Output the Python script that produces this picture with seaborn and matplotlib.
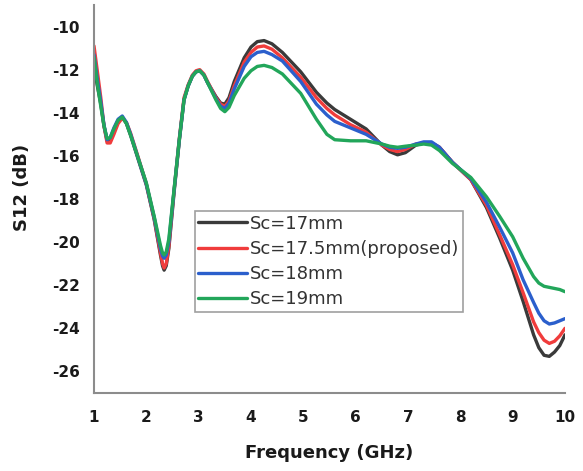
import pandas as pd
import seaborn as sns
import matplotlib.pyplot as plt

# frequency points (GHz)
freq = [1.0, 1.06, 1.13, 1.19, 1.25, 1.31, 1.38, 1.46, 1.54, 1.62,
        1.70, 1.83, 2.0, 2.15, 2.27, 2.31, 2.34, 2.38, 2.43, 2.53,
        2.63, 2.72, 2.8, 2.88, 2.95, 3.02, 3.1, 3.17, 3.33, 3.42,
        3.5, 3.58, 3.68, 3.87, 4.0, 4.12, 4.25, 4.4, 4.6, 4.95,
        5.25, 5.45, 5.6, 5.9, 6.2, 6.5, 6.65, 6.8, 6.95, 7.15,
        7.3, 7.45, 7.6, 7.85, 8.2, 8.5, 8.75, 9.0, 9.2, 9.4,
        9.5, 9.6, 9.7, 9.8, 9.9, 10.0]

# S12 (dB) for each Sc
s12_17 = [-11.8, -12.7, -13.6, -14.6, -15.3, -15.2, -14.8, -14.4, -14.2, -14.5,
          -15.05, -16.05, -17.35, -18.95, -20.6, -21.1, -21.3, -21.1, -20.3, -17.7,
          -15.3, -13.4, -12.75, -12.3, -12.1, -12.05, -12.25, -12.6, -13.25, -13.55,
          -13.6, -13.3, -12.55, -11.45, -10.95, -10.7, -10.65, -10.8, -11.2, -12.1,
          -13.05, -13.55, -13.85, -14.3, -14.75, -15.5, -15.8, -15.95, -15.85, -15.5,
          -15.4, -15.4, -15.6, -16.3, -17.1, -18.4, -19.8, -21.3, -22.75, -24.3,
          -24.9, -25.25, -25.3, -25.1, -24.8, -24.3]
s12_175 = [-10.9, -12.0, -13.3, -14.6, -15.4, -15.4, -15.0, -14.5, -14.25, -14.45,
           -14.95, -15.95, -17.3, -18.9, -20.5, -21.0, -21.2, -21.0, -20.2, -17.6,
           -15.2, -13.3, -12.7, -12.25, -12.05, -12.0, -12.2, -12.55, -13.3, -13.6,
           -13.7, -13.45, -12.75, -11.65, -11.2, -10.95, -10.9, -11.05, -11.45, -12.35,
           -13.3, -13.8, -14.1, -14.55, -14.9, -15.5, -15.7, -15.8, -15.7, -15.45,
           -15.4, -15.4, -15.6, -16.3, -17.1, -18.3, -19.65, -21.05, -22.35, -23.7,
           -24.2, -24.55, -24.7, -24.6, -24.35, -24.0]
s12_18 = [-11.3, -12.4, -13.5, -14.55, -15.25, -15.15, -14.7, -14.3, -14.15, -14.45,
          -15.0, -16.0, -17.3, -18.85, -20.3, -20.65, -20.75, -20.6, -20.0, -17.6,
          -15.25, -13.4, -12.75, -12.3, -12.1, -12.05, -12.25, -12.6, -13.35, -13.7,
          -13.8, -13.55, -12.9, -11.85, -11.4, -11.2, -11.15, -11.3, -11.6, -12.55,
          -13.6, -14.1, -14.4, -14.7, -15.0, -15.45, -15.6, -15.65, -15.6, -15.45,
          -15.35, -15.35, -15.6, -16.3, -17.05, -18.15, -19.3, -20.5, -21.75, -22.8,
          -23.3, -23.65, -23.8, -23.75, -23.65, -23.55]
s12_19 = [-11.4, -12.6, -13.7, -14.6, -15.2, -15.15, -14.75, -14.35, -14.2, -14.5,
          -15.05, -16.0, -17.25, -18.8, -20.15, -20.5, -20.6, -20.45, -19.85, -17.55,
          -15.25, -13.4, -12.75, -12.3, -12.1, -12.05, -12.25, -12.6, -13.4, -13.8,
          -13.95, -13.75, -13.2, -12.4, -12.05, -11.85, -11.8, -11.9, -12.2, -13.1,
          -14.3, -15.0, -15.25, -15.3, -15.3, -15.45, -15.55, -15.6, -15.55, -15.5,
          -15.45, -15.5, -15.75, -16.35, -17.0, -17.9, -18.8, -19.75, -20.75, -21.6,
          -21.9, -22.05, -22.1, -22.15, -22.2, -22.3]

labels = ['Sc=17mm', 'Sc=17.5mm(proposed)', 'Sc=18mm', 'Sc=19mm']
colors = ['#3a3a3a', '#f03c3c', '#2b5fcc', '#22a65a']

df = pd.concat([
    pd.DataFrame({'freq': freq, 's12': vals, 'case': lab})
    for vals, lab in zip([s12_17, s12_175, s12_18, s12_19], labels)
])

sns.set_style('white')
plt.rcParams['font.family'] = ['DejaVu Sans']
plt.rcParams['axes.unicode_minus'] = False

fig = plt.figure(figsize=(5.83, 4.71), dpi=100)
ax = fig.add_axes([94 / 583, 1 - 393 / 471, 471 / 583, 388 / 471])

sns.lineplot(data=df, x='freq', y='s12', hue='case', hue_order=labels,
             palette=colors, sort=False, estimator=None, linewidth=2.4, ax=ax)

ax.set_xlim(1, 10)
ax.set_ylim(-27, -9)
ax.set_xticks(range(1, 11))
ax.set_yticks(range(-26, -9, 2))
ax.tick_params(length=0, labelsize=11, colors='#1a1a1a')
ax.tick_params(axis='x', pad=12)
ax.tick_params(axis='y', pad=10)
for lab in ax.get_xticklabels() + ax.get_yticklabels():
    lab.set_fontweight('bold')

ax.set_xlabel('Frequency (GHz)', fontsize=13, fontweight='bold', color='#1a1a1a', labelpad=14)
ax.set_ylabel('S12 (dB)', fontsize=13, fontweight='bold', color='#1a1a1a')
ax.yaxis.set_label_coords(-0.134, 0.53)

sns.despine(ax=ax)
for side in ['left', 'bottom']:
    ax.spines[side].set_color('#8c8c8c')
    ax.spines[side].set_linewidth(1.5)

leg = ax.legend(loc='upper left', bbox_to_anchor=(0.214, 0.469), borderaxespad=0,
                fontsize=13, frameon=True, fancybox=False, framealpha=1,
                edgecolor='#a0a0a0', borderpad=0.2, labelspacing=0.4,
                handlelength=2.7, handletextpad=0.15)
leg.get_frame().set_linewidth(1.2)
for t in leg.get_texts():
    t.set_color('#333333')

fig.savefig('out.png', dpi=100)
